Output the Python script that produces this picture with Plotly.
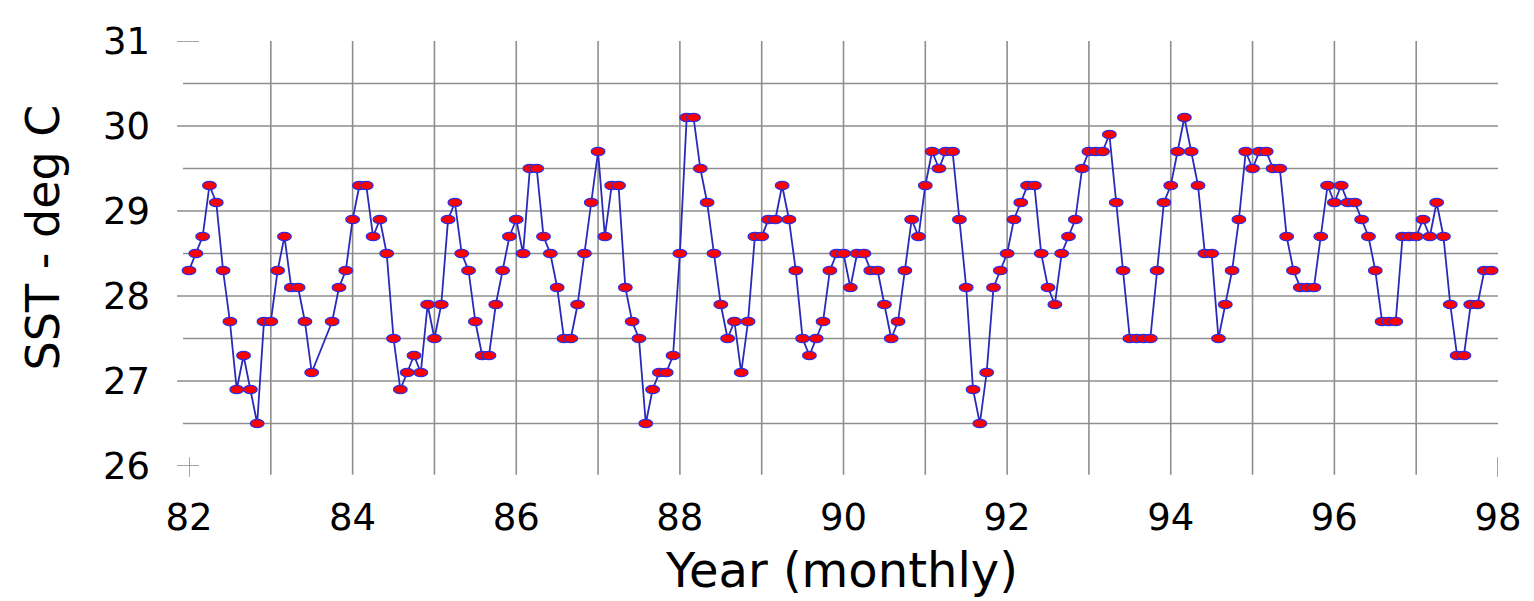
import numpy as np
import plotly.graph_objects as go

# Monthly SST (deg C) from Jan 1982; None = month missing in the record
sst = [
    28.3, 28.5, 28.7, 29.3, 29.1, 28.3, 27.7, 26.9, 27.3, 26.9, 26.5, 27.7,   # 82
    27.7, 28.3, 28.7, 28.1, 28.1, 27.7, 27.1, None, None, 27.7, 28.1, 28.3,   # 83
    28.9, 29.3, 29.3, 28.7, 28.9, 28.5, 27.5, 26.9, 27.1, 27.3, 27.1, 27.9,   # 84
    27.5, 27.9, 28.9, 29.1, 28.5, 28.3, 27.7, 27.3, 27.3, 27.9, 28.3, 28.7,   # 85
    28.9, 28.5, 29.5, 29.5, 28.7, 28.5, 28.1, 27.5, 27.5, 27.9, 28.5, 29.1,   # 86
    29.7, 28.7, 29.3, 29.3, 28.1, 27.7, 27.5, 26.5, 26.9, 27.1, 27.1, 27.3,   # 87
    28.5, 30.1, 30.1, 29.5, 29.1, 28.5, 27.9, 27.5, 27.7, 27.1, 27.7, 28.7,   # 88
    28.7, 28.9, 28.9, 29.3, 28.9, 28.3, 27.5, 27.3, 27.5, 27.7, 28.3, 28.5,   # 89
    28.5, 28.1, 28.5, 28.5, 28.3, 28.3, 27.9, 27.5, 27.7, 28.3, 28.9, 28.7,   # 90
    29.3, 29.7, 29.5, 29.7, 29.7, 28.9, 28.1, 26.9, 26.5, 27.1, 28.1, 28.3,   # 91
    28.5, 28.9, 29.1, 29.3, 29.3, 28.5, 28.1, 27.9, 28.5, 28.7, 28.9, 29.5,   # 92
    29.7, 29.7, 29.7, 29.9, 29.1, 28.3, 27.5, 27.5, 27.5, 27.5, 28.3, 29.1,   # 93
    29.3, 29.7, 30.1, 29.7, 29.3, 28.5, 28.5, 27.5, 27.9, 28.3, 28.9, 29.7,   # 94
    29.5, 29.7, 29.7, 29.5, 29.5, 28.7, 28.3, 28.1, 28.1, 28.1, 28.7, 29.3,   # 95
    29.1, 29.3, 29.1, 29.1, 28.9, 28.7, 28.3, 27.7, 27.7, 27.7, 28.7, 28.7,   # 96
    28.7, 28.9, 28.7, 29.1, 28.7, 27.9, 27.3, 27.3, 27.9, 27.9, 28.3, 28.3,   # 97
]
start_year = 82
years = [start_year + m / 12 for m in range(len(sst))]

x_ticks = [82, 84, 86, 88, 90, 92, 94, 96, 98]
y_ticks = [26, 27, 28, 29, 30, 31]
x_grid = list(range(83, 98))
y_grid = [26.5, 27, 27.5, 28, 28.5, 29, 29.5, 30, 30.5]

# the page body has an 8 px margin: the figure is sized / offset for it
OFF = 8
W, H = 1534 - OFF, 601 - OFF
L, R, T, B = 189 - OFF, 27, 31 - OFF, 135
PW, PH = W - L - R, H - T - B
XR, YR = (82, 98), (26, 31)
GRID = "#8e8e8e"
LINE_BLUE = "#2a2ab8"
MARK_EDGE = "#2f2fe0"

fig = go.Figure()
fig.add_trace(go.Scatter(
    x=years, y=sst, mode="lines+markers", connectgaps=True, cliponaxis=False,
    line=dict(color=LINE_BLUE, width=1.8),
    marker=dict(symbol="circle", size=7, color="#ff0000",
                line=dict(color=MARK_EDGE, width=1)),
    hoverinfo="x+y", showlegend=False,
))

shapes = []
px_x = lambda p: p / PW
px_y = lambda p: p / PH
# horizontal grid + ticks
for g in y_grid:
    left = -12 if float(g).is_integer() else -6
    shapes.append(dict(type="line", xref="paper", yref="y", x0=px_x(left), x1=1,
                       y0=g, y1=g, line=dict(color=GRID, width=1.6), layer="below"))
for g in (YR[0], YR[1]):
    shapes.append(dict(type="line", xref="paper", yref="y", x0=px_x(-12), x1=px_x(10),
                       y0=g, y1=g, line=dict(color=GRID, width=1.6), layer="below"))
# vertical grid + ticks
for g in x_grid:
    shapes.append(dict(type="line", xref="x", yref="paper", x0=g, x1=g,
                       y0=px_y(-9), y1=1, line=dict(color=GRID, width=1.6), layer="below"))
for g in XR:
    shapes.append(dict(type="line", xref="x", yref="paper", x0=g, x1=g,
                       y0=px_y(-11), y1=px_y(9), line=dict(color=GRID, width=1.6), layer="below"))

# elliptical markers (about 14 x 9 px); x placed on the paper (unclipped) so the
# marker on the left edge of the axis is drawn whole, as in the original
hw = 6.9 / PW
hh = 4.3 * (YR[1] - YR[0]) / PH
for xv, yv in zip(years, sst):
    if yv is None:
        continue
    xp = (xv - XR[0]) / (XR[1] - XR[0])
    shapes.append(dict(type="circle", xref="paper", yref="y",
                       x0=xp - hw, x1=xp + hw, y0=yv - hh, y1=yv + hh,
                       fillcolor="#ff0000", line=dict(color=MARK_EDGE, width=1.2),
                       layer="above"))

FONT = "DejaVu Sans"
fig.update_layout(
    width=W, height=H,
    margin=dict(l=L, r=R, t=T, b=B, pad=0),
    paper_bgcolor="white", plot_bgcolor="white",
    shapes=shapes,
    xaxis=dict(range=list(XR), tickvals=x_ticks, ticktext=[str(v) for v in x_ticks],
               showgrid=False, zeroline=False, showline=False, ticks="",
               ticklabelstandoff=26,
               tickfont=dict(family=FONT, size=37, color="black")),
    yaxis=dict(range=list(YR), tickvals=y_ticks, ticktext=[str(v) for v in y_ticks],
               showgrid=False, zeroline=False, showline=False, ticks="",
               ticklabelstandoff=38,
               tickfont=dict(family=FONT, size=37, color="black")),
    annotations=[
        dict(text="Year (monthly)", xref="paper", yref="paper",
             x=(846 - 189) / PW, y=-(572 - 466) / PH, xanchor="center", yanchor="middle",
             showarrow=False, font=dict(family=FONT, size=48, color="black")),
        dict(text="SST - deg C", xref="paper", yref="paper",
             x=(42 - 189) / PW, y=(466 - 232) / PH, xanchor="center", yanchor="middle",
             textangle=-90, showarrow=False,
             font=dict(family=FONT, size=46, color="black")),
    ],
)

fig.write_html("out.html")
